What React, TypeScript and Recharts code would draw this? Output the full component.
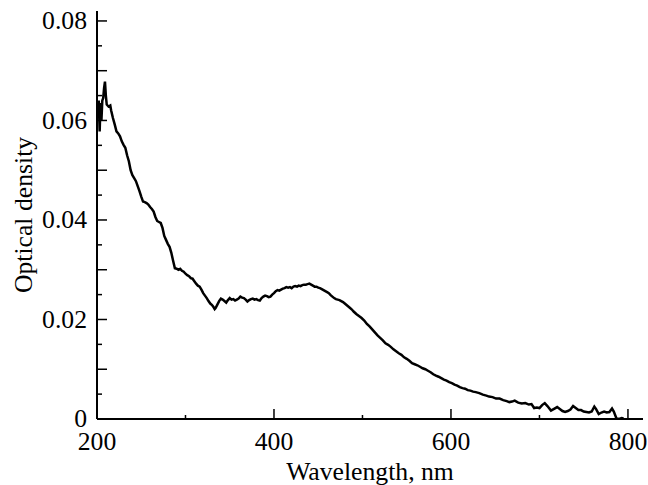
import { LineChart, Line, XAxis, YAxis, Label } from "recharts";

const wavelength = [
  201, 202, 203, 204, 205, 206, 207, 208, 209, 210, 211, 213, 215, 216, 218, 220, 222, 224, 226, 228,
  230, 232, 234, 236, 238, 240, 242, 244, 246, 248, 250, 252, 254, 256, 258, 260, 262, 264, 266, 268,
  270, 272, 274, 276, 278, 280, 282, 284, 286, 288, 290, 292, 294, 296, 298, 300, 302, 304, 306, 308,
  310, 312, 314, 316, 318, 320, 322, 324, 326, 328, 330, 332, 333, 334, 336, 338, 340, 342, 344, 346,
  348, 350, 352, 354, 356, 358, 360, 362, 364, 366, 368, 370, 372, 374, 376, 378, 380, 382, 384, 386,
  388, 390, 392, 394, 396, 398, 400, 402, 404, 406, 408, 410, 412, 414, 416, 418, 420, 422, 424, 426,
  428, 430, 432, 434, 436, 438, 440, 442, 444, 446, 448, 450, 452, 454, 456, 458, 460, 462, 464, 466,
  468, 470, 472, 474, 476, 478, 480, 482, 484, 486, 488, 490, 493, 496, 499, 502, 505, 508, 511, 514,
  517, 520, 523, 526, 529, 532, 535, 538, 541, 544, 547, 550, 553, 556, 559, 562, 565, 568, 571, 574,
  577, 580, 583, 586, 589, 592, 595, 598, 601, 604, 607, 610, 613, 616, 619, 622, 625, 628, 632, 636,
  640, 643, 647, 651, 655, 659, 663, 666, 669, 672, 676, 680, 684, 688, 691, 694, 697, 700, 703, 706,
  709, 713, 717, 720, 723, 726, 729, 732, 735, 738, 741, 744, 747, 750, 753, 756, 759, 762, 764, 767,
  770, 773, 776, 779, 782, 784, 787, 790, 793, 795,
];

const density = [
  0.062, 0.064, 0.0578, 0.0635, 0.06, 0.064, 0.0645, 0.0665, 0.0678, 0.065, 0.0632, 0.0628, 0.063, 0.062, 0.0605, 0.0592, 0.0578, 0.0574, 0.0568, 0.0558,
  0.0551, 0.0545, 0.053, 0.0518, 0.05, 0.049, 0.0484, 0.0478, 0.0468, 0.0458, 0.0447, 0.0437, 0.0436, 0.0434, 0.0431, 0.0426, 0.0422, 0.0417, 0.0406, 0.0398,
  0.0396, 0.0394, 0.0384, 0.0368, 0.036, 0.0352, 0.0346, 0.0334, 0.0318, 0.0303, 0.0302, 0.03, 0.0302, 0.0298, 0.0296, 0.0292, 0.0289, 0.0287, 0.0283, 0.0282,
  0.0277, 0.0272, 0.0268, 0.0266, 0.026, 0.0253, 0.0248, 0.0243, 0.0237, 0.0232, 0.0229, 0.0224, 0.0221, 0.0223, 0.023, 0.0237, 0.0242, 0.024, 0.0237, 0.0234,
  0.0239, 0.0243, 0.024, 0.0241, 0.0238, 0.024, 0.0242, 0.0246, 0.0244, 0.0243, 0.024, 0.0236, 0.0239, 0.0241, 0.0242, 0.024, 0.0241, 0.0239, 0.0238, 0.0243,
  0.0246, 0.0248, 0.0247, 0.0245, 0.0246, 0.025, 0.0253, 0.0257, 0.0259, 0.0258, 0.026, 0.0262, 0.0263, 0.0265, 0.0264, 0.0265, 0.0263, 0.0266, 0.0267, 0.0266,
  0.0268, 0.0267, 0.0269, 0.027, 0.027, 0.0271, 0.0272, 0.027, 0.0268, 0.0266, 0.0266, 0.0264, 0.0263, 0.0261, 0.0259, 0.0257, 0.0255, 0.0253, 0.0249, 0.0246,
  0.0243, 0.0241, 0.024, 0.0239, 0.0237, 0.0235, 0.0232, 0.0229, 0.0226, 0.0223, 0.022, 0.0216, 0.0211, 0.0207, 0.0203, 0.0198, 0.0191, 0.0186, 0.018, 0.0174,
  0.0168, 0.0163, 0.0158, 0.0152, 0.0149, 0.0145, 0.014, 0.0136, 0.0132, 0.0129, 0.0124, 0.0121, 0.0117, 0.0112, 0.011, 0.0108, 0.0105, 0.0102, 0.01, 0.0097,
  0.0094, 0.009, 0.0087, 0.0085, 0.0082, 0.0079, 0.0077, 0.0074, 0.0072, 0.0069, 0.0067, 0.0064, 0.0062, 0.0061, 0.0058, 0.0057, 0.0055, 0.0054, 0.0052, 0.0049,
  0.0047, 0.0045, 0.0044, 0.0041, 0.0041, 0.0038, 0.0036, 0.0034, 0.0035, 0.0037, 0.0033, 0.0031, 0.0032, 0.0029, 0.003, 0.0022, 0.0023, 0.0022, 0.0028, 0.0032,
  0.0026, 0.0017, 0.0021, 0.0024, 0.002, 0.0016, 0.0014, 0.0016, 0.0019, 0.0026, 0.0022, 0.0018, 0.0018, 0.0015, 0.0014, 0.0013, 0.0015, 0.0025, 0.002, 0.001,
  0.0013, 0.0015, 0.0013, 0.0014, 0.0021, 0.0015, 0.0001, 0, 0.0002, 0.0001,
];

const xTicks = [200, 300, 400, 500, 600, 700, 800];
const yTicks = [
  0, 0.005, 0.01, 0.015, 0.02, 0.025, 0.03, 0.035, 0.04, 0.045, 0.05, 0.055, 0.06, 0.065, 0.07, 0.075, 0.08,
];

const FONT = '"Liberation Serif", "Times New Roman", serif';
const FS = 25.7;

const data = wavelength.map((w, i) => ({ w, od: density[i] }));

// ticks point inward, long/short, labels only on some of them
function XTick(props: any) {
  const { x, y, payload } = props;
  const v = payload.value;
  const major = v % 200 === 0;
  return (
    <g>
      <line x1={x} x2={x} y1={y} y2={y - (major ? 10 : 4)} stroke="#000" strokeWidth={1.5} />
      {major && (
        <text x={x} y={y + 31} textAnchor="middle" fontFamily={FONT} fontSize={FS} fill="#000">
          {v}
        </text>
      )}
    </g>
  );
}

function YTick(props: any) {
  const { x, y, payload } = props;
  const m = Math.round(payload.value * 1000);
  const major = m % 10 === 0;
  const labelled = m % 20 === 0;
  return (
    <g>
      <line x1={x} x2={x + (major ? 10 : 5)} y1={y} y2={y} stroke="#000" strokeWidth={1.5} />
      {labelled && (
        <text x={x - 10} y={y} dy="0.33em" textAnchor="end" fontFamily={FONT} fontSize={FS} fill="#000">
          {m === 0 ? "0" : payload.value.toFixed(2)}
        </text>
      )}
    </g>
  );
}

export default function App() {
  return (
    <div style={{ position: "absolute", left: 0, top: 0, background: "#fff" }}>
      <LineChart width={648} height={485} data={data} margin={{ top: 11, right: 5, bottom: 0, left: 0 }}>
        <XAxis
          dataKey="w"
          type="number"
          domain={[200, 817]}
          ticks={xTicks}
          interval={0}
          height={66}
          tickSize={0}
          tickMargin={0}
          tick={<XTick />}
          axisLine={{ stroke: "#000", strokeWidth: 2 }}
        >
          <Label
            content={(p: any) => {
              const vb = p.viewBox;
              return (
                <text x={vb.x + vb.width / 2} y={vb.y + 61} textAnchor="middle" fontFamily={FONT} fontSize={FS} fill="#000">
                  Wavelength, nm
                </text>
              );
            }}
          />
        </XAxis>
        <YAxis
          type="number"
          domain={[0, 0.082]}
          allowDataOverflow
          ticks={yTicks}
          interval={0}
          width={97}
          tickSize={0}
          tickMargin={0}
          tick={<YTick />}
          axisLine={{ stroke: "#000", strokeWidth: 2 }}
        >
          <Label
            content={(p: any) => {
              const vb = p.viewBox;
              const cx = vb.x + 32;
              const cy = vb.y + vb.height / 2;
              return (
                <text x={cx} y={cy} transform={`rotate(-90 ${cx} ${cy})`} textAnchor="middle" fontFamily={FONT} fontSize={FS} fill="#000">
                  Optical density
                </text>
              );
            }}
          />
        </YAxis>
        <Line
          type="linear"
          dataKey="od"
          stroke="#000"
          strokeWidth={2.5}
          dot={false}
          isAnimationActive={false}
        />
      </LineChart>
    </div>
  );
}
